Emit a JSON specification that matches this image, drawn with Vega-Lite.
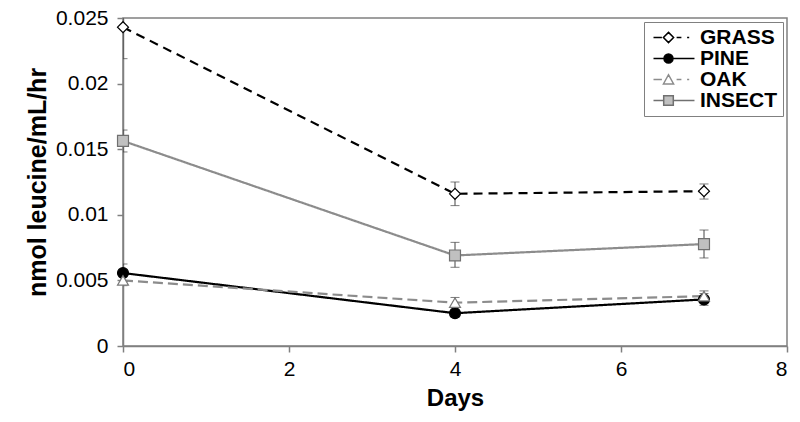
{
  "$schema": "https://vega.github.io/schema/vega-lite/v6.json",
  "width": 664,
  "height": 328,
  "autosize": "none",
  "padding": {"left": 123, "top": 18, "right": 13, "bottom": 76},
  "background": "white",
  "config": {
    "font": "Liberation Sans",
    "view": {"stroke": "#808080", "strokeWidth": 1.5},
    "axis": {
      "grid": false,
      "domainColor": "#808080",
      "domainWidth": 1.5,
      "tickColor": "#808080",
      "tickWidth": 1.5,
      "tickSize": 6,
      "labelFont": "Liberation Sans",
      "labelFontSize": 21,
      "labelColor": "black",
      "titleFont": "Liberation Sans",
      "titleFontSize": 24,
      "titleFontWeight": "bold",
      "titleColor": "black"
    }
  },
  "data": {
    "values": [
      {"series": "GRASS", "day": 0, "value": 0.0243, "lo": 0.0219, "hi": 0.0267},
      {"series": "GRASS", "day": 4, "value": 0.0116, "lo": 0.0107, "hi": 0.0125},
      {"series": "GRASS", "day": 7, "value": 0.0118, "lo": 0.0112, "hi": 0.01235},
      {"series": "PINE", "day": 0, "value": 0.00556, "lo": 0.0049, "hi": 0.00625},
      {"series": "PINE", "day": 4, "value": 0.0025, "lo": 0.0022, "hi": 0.0028},
      {"series": "PINE", "day": 7, "value": 0.00355, "lo": 0.0031, "hi": 0.004},
      {"series": "OAK", "day": 0, "value": 0.005, "lo": 0.0046, "hi": 0.0054},
      {"series": "OAK", "day": 4, "value": 0.0033, "lo": 0.003, "hi": 0.0037},
      {"series": "OAK", "day": 7, "value": 0.0038, "lo": 0.0034, "hi": 0.0042},
      {"series": "INSECT", "day": 0, "value": 0.01563, "lo": 0.01479, "hi": 0.01646},
      {"series": "INSECT", "day": 4, "value": 0.0069, "lo": 0.006, "hi": 0.0079},
      {"series": "INSECT", "day": 7, "value": 0.00777, "lo": 0.00671, "hi": 0.00884}
    ]
  },
  "encoding": {
    "x": {
      "field": "day", "type": "quantitative",
      "scale": {"domain": [0, 8], "nice": false, "zero": false},
      "axis": {"values": [0, 2, 4, 6, 8], "format": "d", "title": "Days", "labelPadding": 6, "titlePadding": 7}
    }
  },
  "layer": [
    {
      "mark": {"type": "line", "strokeWidth": 2.2},
      "encoding": {
        "y": {
          "field": "value", "type": "quantitative",
          "scale": {"domain": [0, 0.025], "nice": false},
          "axis": {"values": [0, 0.005, 0.01, 0.015, 0.02, 0.025], "format": "~g", "title": "nmol leucine/mL/hr", "labelPadding": 9, "titlePadding": 5, "titleFontSize": 25}
        },
        "color": {
          "field": "series", "type": "nominal",
          "scale": {"domain": ["GRASS", "PINE", "OAK", "INSECT"], "range": ["#000000", "#000000", "#8c8c8c", "#8c8c8c"]},
          "legend": null
        },
        "strokeDash": {
          "field": "series", "type": "nominal",
          "scale": {"domain": ["GRASS", "PINE", "OAK", "INSECT"], "range": [[9, 6], [1, 0], [10, 5], [1, 0]]},
          "legend": null
        }
      }
    },
    {
      "mark": {"type": "rule", "color": "#444444", "strokeWidth": 1, "clip": true},
      "encoding": {
        "y": {"field": "lo", "type": "quantitative"},
        "y2": {"field": "hi"}
      }
    },
    {
      "mark": {"type": "tick", "orient": "horizontal", "size": 9, "thickness": 1, "color": "#444444", "clip": true},
      "encoding": {"y": {"field": "lo", "type": "quantitative"}}
    },
    {
      "mark": {"type": "tick", "orient": "horizontal", "size": 9, "thickness": 1, "color": "#444444", "clip": true},
      "encoding": {"y": {"field": "hi", "type": "quantitative"}}
    },
    {
      "mark": {"type": "point", "size": 120, "filled": false, "opacity": 1, "strokeWidth": 1.2},
      "encoding": {
        "y": {"field": "value", "type": "quantitative"},
        "shape": {
          "field": "series", "type": "nominal",
          "scale": {"domain": ["GRASS", "PINE", "OAK", "INSECT"], "range": ["diamond", "circle", "triangle-up", "square"]},
          "legend": null
        },
        "fill": {
          "field": "series", "type": "nominal",
          "scale": {"domain": ["GRASS", "PINE", "OAK", "INSECT"], "range": ["#ffffff", "#000000", "#ffffff", "#c0c0c0"]},
          "legend": null
        },
        "stroke": {
          "field": "series", "type": "nominal",
          "scale": {"domain": ["GRASS", "PINE", "OAK", "INSECT"], "range": ["#000000", "#000000", "#7a7a7a", "#707070"]},
          "legend": null
        }
      }
    },
    {
      "mark": {"type": "point", "size": 0, "filled": false, "opacity": 1},
      "encoding": {
        "y": {"field": "value", "type": "quantitative"},
        "shape": {
          "field": "series", "type": "nominal",
          "scale": {"domain": ["GRASS", "PINE", "OAK", "INSECT"], "range": [
            "M -1 0 H 0.4 M 1.5 -0.85 L 2.35 0 L 1.5 0.85 L 0.65 0 Z M 2.85 0 H 3.65 M 4.6 0 H 4.95",
            "M -1 0 H 0.75 M 2.25 0 H 5.83 M 0.75 0 A 0.75 0.75 0 1 1 2.25 0 A 0.75 0.75 0 1 1 0.75 0 Z",
            "M -1 0 H 0.4 M 0.65 0.75 L 1.5 -0.8 L 2.35 0.75 Z M 2.85 0 H 3.65 M 4.6 0 H 4.95",
            "M -1 0 H 0.7 M 2.3 0 H 5.83 M 0.7 -0.8 H 2.3 V 0.8 H 0.7 Z"
          ]},
          "legend": {
            "title": null,
            "orient": "top-right",
            "offset": 4,
            "padding": 5,
            "strokeColor": "#808080",
            "fillColor": "white",
            "symbolSize": 144,
            "symbolStrokeWidth": 1.5,
            "symbolOpacity": 1,
            "labelFont": "Liberation Sans",
            "labelFontSize": 21,
            "labelFontWeight": "bold",
            "labelColor": "black",
            "labelOffset": 30,
            "rowPadding": -1.5
          }
        },
        "fill": {
          "field": "series", "type": "nominal",
          "scale": {"domain": ["GRASS", "PINE", "OAK", "INSECT"], "range": ["#ffffff", "#000000", "#ffffff", "#c0c0c0"]}
        },
        "stroke": {
          "field": "series", "type": "nominal",
          "scale": {"domain": ["GRASS", "PINE", "OAK", "INSECT"], "range": ["#000000", "#000000", "#8c8c8c", "#707070"]}
        }
      }
    }
  ],
  "resolve": {"scale": {"shape": "independent", "fill": "independent", "stroke": "independent"}}
}
